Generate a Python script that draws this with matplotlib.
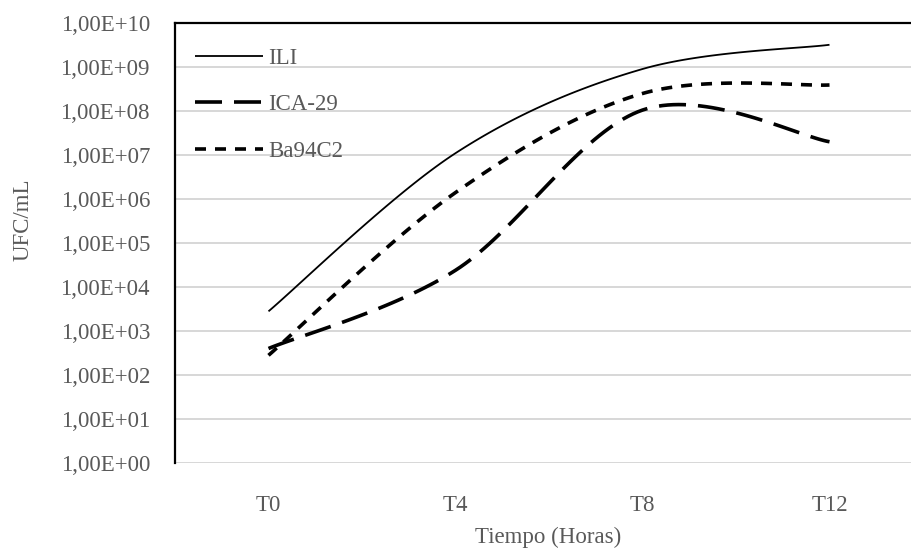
import matplotlib
matplotlib.use("Agg")
import matplotlib.pyplot as plt
import numpy as np

plt.rcParams['font.family'] = ['Liberation Serif', 'DejaVu Serif']
plt.rcParams['lines.scale_dashes'] = False

tiempos = ["T0", "T4", "T8", "T12"]
ili = [2.8e3, 1.1e7, 9.0e8, 3.2e9]
ica29 = [4.0e2, 2.4e4, 1.05e8, 2.0e7]
ba94c2 = [2.8e2, 1.4e6, 2.5e8, 3.9e8]

gris = '#595959'
px = 0.72  # 1 px en puntos a dpi 100
fs = 16.5

# suavizado tipo excel (bezier catmull-rom) en espacio (indice, log10)
def suavizar(vals, n=40):
    x = np.arange(len(vals), dtype=float)
    y = np.log10(vals)
    P = np.stack([x, y], axis=1)
    xs, ys = [], []
    for i in range(len(P) - 1):
        p0 = P[i - 1] if i > 0 else P[i]
        p3 = P[i + 2] if i + 2 < len(P) else P[i + 1]
        c1 = P[i] + (P[i + 1] - p0) / 6
        c2 = P[i + 1] - (p3 - P[i]) / 6
        t = np.linspace(0, 1, n)[:, None]
        b = (1 - t)**3 * P[i] + 3 * (1 - t)**2 * t * c1 + 3 * (1 - t) * t**2 * c2 + t**3 * P[i + 1]
        xs.append(b[:, 0])
        ys.append(b[:, 1])
    return np.concatenate(xs), 10**np.concatenate(ys)

fig = plt.figure(figsize=(9.11, 5.5), dpi=100)
ax = fig.add_axes([175/911, 1 - 463/550, 748/911, 440/550])

x, y = suavizar(ili)
ax.plot(x, y, color='black', lw=1.3, label='ILI', solid_capstyle='butt')
x, y = suavizar(ica29)
ax.plot(x, y, color='black', lw=2.6, dashes=(27*px, 12*px), label='ICA-29')
x, y = suavizar(ba94c2)
ax.plot(x, y, color='black', lw=2.6, dashes=(11*px, 9*px), label='Ba94C2')

ax.set_yscale('log')
ax.set_ylim(1, 1e10)
ax.set_xlim(-0.5, 3.5)
ax.set_yticks([10.0**k for k in range(11)])
ax.set_yticklabels(["1,00E+%02d" % k for k in range(11)])
ax.minorticks_off()
ax.set_xticks(range(len(tiempos)))
ax.set_xticklabels(tiempos)
ax.tick_params(axis='both', length=0, labelsize=fs, labelcolor=gris)
ax.tick_params(axis='y', pad=18)
ax.tick_params(axis='x', pad=23)

ax.yaxis.grid(True, color='#d4d4d4', lw=1.3)
ax.set_axisbelow(True)
for s in ['right', 'bottom']:
    ax.spines[s].set_visible(False)
ax.spines['left'].set_linewidth(1.6)
ax.spines['top'].set_linewidth(1.6)

fig.text(23/911, 1 - 220/550, "UFC/mL", rotation=90, ha='center', va='center',
         fontsize=fs, color=gris)
fig.text(548/911, 1 - 537/550, "Tiempo (Horas)", ha='center', va='center',
         fontsize=fs, color=gris)

leg = ax.legend(loc='upper left', bbox_to_anchor=(195/911, 1 - 48/550),
                bbox_transform=fig.transFigure, frameon=False, fontsize=fs,
                handlelength=2.95, handletextpad=0.25, labelspacing=1.1,
                borderpad=0, borderaxespad=0)
for t in leg.get_texts():
    t.set_color(gris)

fig.savefig("out.png", dpi=100)
